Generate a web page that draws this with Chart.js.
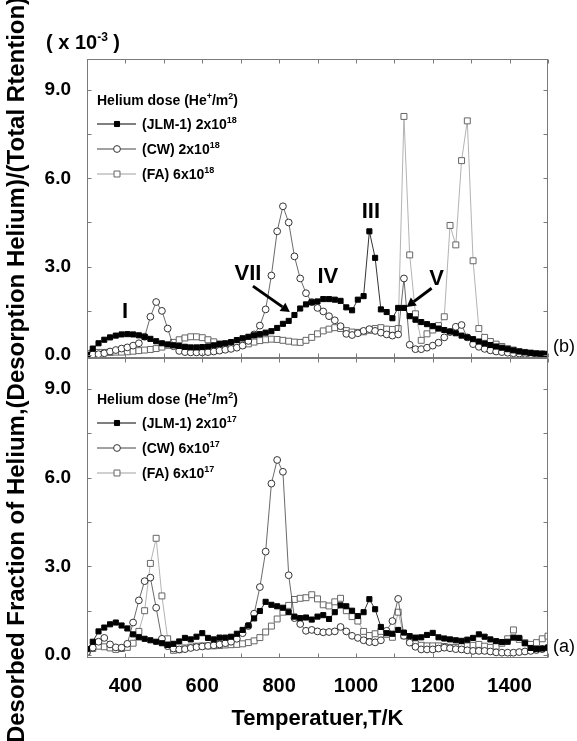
<!DOCTYPE html>
<html>
<head>
<meta charset="utf-8">
<script src="https://cdn.jsdelivr.net/npm/chart.js@4.4.0/dist/chart.umd.min.js"></script>
<style>
html, body { margin: 0; padding: 0; background: #fff; }
#wrap { position: relative; width: 577px; height: 741px; overflow: hidden; }
#wrap canvas { position: absolute; left: 0; top: 0; }
</style>
</head>
<body>
<div id="wrap">
  <canvas id="panelB" width="577" height="741"></canvas>
  <canvas id="panelA" width="577" height="741"></canvas>
</div>
<script>
// temperature grid (K), shared by every series
const temps = [300, 315, 330, 345, 360, 375, 390, 405, 420, 435,
  450, 465, 480, 495, 510, 525, 540, 555, 570, 585,
  600, 615, 630, 645, 660, 675, 690, 705, 720, 735,
  750, 765, 780, 795, 810, 825, 840, 855, 870, 885,
  900, 915, 930, 945, 960, 975, 990, 1005, 1020, 1035,
  1050, 1065, 1080, 1095, 1110, 1125, 1140, 1155, 1170, 1185,
  1200, 1215, 1230, 1245, 1260, 1275, 1290, 1305, 1320, 1335,
  1350, 1365, 1380, 1395, 1410, 1425, 1440, 1455, 1470, 1485,
  1500];

// panel (b): high dose
const jlmB = [0.00, 0.22, 0.40, 0.52, 0.60, 0.66, 0.70, 0.71, 0.70, 0.67,
  0.62, 0.55, 0.47, 0.40, 0.36, 0.33, 0.31, 0.28, 0.26, 0.26,
  0.27, 0.29, 0.33, 0.37, 0.40, 0.44, 0.51, 0.57, 0.62, 0.67,
  0.71, 0.76, 0.81, 0.92, 1.06, 1.16, 1.36, 1.58, 1.72, 1.79,
  1.82, 1.90, 1.90, 1.88, 1.84, 1.62, 1.52, 1.88, 2.00, 4.20,
  3.30, 1.55, 1.46, 1.25, 1.60, 1.60, 1.32, 1.20, 1.12, 1.05,
  0.98, 0.90, 0.85, 0.80, 0.74, 0.66, 0.60, 0.54, 0.46, 0.39,
  0.34, 0.29, 0.25, 0.20, 0.16, 0.12, 0.09, 0.07, 0.05, 0.04,
  0.03];
const cwB = [0.00, 0.02, 0.03, 0.06, 0.12, 0.17, 0.22, 0.26, 0.32, 0.40,
  0.62, 1.30, 1.80, 1.50, 0.90, 0.30, 0.14, 0.10, 0.09, 0.09,
  0.09, 0.10, 0.12, 0.15, 0.18, 0.21, 0.25, 0.32, 0.48, 0.70,
  1.00, 1.55, 2.70, 4.20, 5.05, 4.50, 3.35, 2.60, 2.10, 1.80,
  1.60, 1.48, 1.32, 1.18, 0.98, 0.72, 0.68, 0.74, 0.82, 0.88,
  0.82, 0.76, 0.70, 0.66, 0.70, 2.60, 0.35, 0.20, 0.20, 0.25,
  0.32, 0.42, 0.60, 0.78, 0.96, 1.02, 0.60, 0.37, 0.28, 0.21,
  0.16, 0.12, 0.10, 0.08, 0.06, 0.05, 0.04, 0.03, 0.03, 0.02,
  0.02];
const faB = [0.05, 0.08, 0.09, 0.09, 0.09, 0.10, 0.10, 0.11, 0.13, 0.15,
  0.17, 0.19, 0.22, 0.27, 0.33, 0.43, 0.52, 0.58, 0.62, 0.62,
  0.59, 0.52, 0.45, 0.38, 0.34, 0.32, 0.32, 0.34, 0.38, 0.44,
  0.49, 0.52, 0.54, 0.53, 0.50, 0.47, 0.44, 0.43, 0.50, 0.60,
  0.72, 0.82, 0.88, 0.93, 0.90, 0.83, 0.78, 0.77, 0.79, 0.84,
  0.90, 0.93, 0.88, 0.87, 0.90, 8.10, 3.40, 1.40, 0.50, 0.72,
  0.85, 1.00, 1.30, 4.40, 3.74, 6.60, 7.95, 3.20, 0.90, 0.60,
  0.46, 0.37, 0.29, 0.22, 0.17, 0.12, 0.09, 0.07, 0.05, 0.04,
  0.03];

// panel (a): low dose
const jlmA = [0.20, 0.45, 0.80, 0.93, 1.04, 1.10, 1.00, 0.90, 0.70, 0.60,
  0.55, 0.50, 0.45, 0.40, 0.34, 0.38, 0.46, 0.58, 0.53, 0.62,
  0.74, 0.58, 0.53, 0.59, 0.59, 0.62, 0.72, 0.85, 1.00, 1.24,
  1.49, 1.80, 1.70, 1.65, 1.60, 1.45, 1.30, 1.25, 1.27, 1.20,
  1.30, 1.35, 1.22, 1.45, 1.68, 1.65, 1.50, 1.32, 1.45, 1.89,
  1.55, 0.95, 0.74, 0.72, 0.85, 0.76, 0.64, 0.59, 0.60, 0.68,
  0.75, 0.60, 0.56, 0.53, 0.50, 0.48, 0.52, 0.58, 0.70, 0.62,
  0.53, 0.47, 0.44, 0.45, 0.59, 0.58, 0.40, 0.24, 0.20, 0.22,
  0.25];
const cwA = [0.10, 0.25, 0.45, 0.58, 0.36, 0.26, 0.25, 0.38, 1.10, 1.85,
  2.50, 2.62, 1.60, 0.55, 0.30, 0.22, 0.19, 0.20, 0.24, 0.27,
  0.29, 0.31, 0.33, 0.36, 0.40, 0.45, 0.55, 0.74, 0.98, 1.40,
  2.30, 3.50, 5.80, 6.60, 6.20, 2.70, 1.25, 1.05, 0.82, 0.85,
  0.80, 0.77, 0.78, 0.80, 0.95, 0.80, 0.65, 0.58, 0.50, 0.44,
  0.43, 0.50, 0.82, 1.15, 1.90, 0.65, 0.42, 0.28, 0.19, 0.19,
  0.19, 0.22, 0.25, 0.23, 0.20, 0.19, 0.16, 0.14, 0.14, 0.14,
  0.12, 0.09, 0.08, 0.08, 0.08, 0.10, 0.12, 0.14, 0.17, 0.20,
  0.25];
const faA = [0.12, 0.22, 0.30, 0.28, 0.24, 0.19, 0.22, 0.26, 0.40, 0.80,
  1.50, 3.10, 3.95, 2.00, 0.55, 0.16, 0.18, 0.24, 0.27, 0.30,
  0.31, 0.31, 0.31, 0.32, 0.34, 0.35, 0.36, 0.38, 0.42, 0.48,
  0.59, 0.78, 0.98, 1.22, 1.45, 1.68, 1.88, 1.92, 1.94, 2.04,
  1.90, 1.70, 1.66, 1.80, 1.92, 1.50, 1.30, 1.15, 0.80, 0.66,
  0.72, 0.80, 0.70, 0.60, 1.45, 0.65, 0.50, 0.38, 0.33, 0.31,
  0.31, 0.31, 0.29, 0.26, 0.26, 0.28, 0.31, 0.33, 0.36, 0.30,
  0.26, 0.30, 0.40, 0.55, 0.85, 0.53, 0.42, 0.36, 0.42, 0.55,
  0.64];

const xTickVals = [400, 600, 800, 1000, 1200, 1400];
const xMinorVals = [300, 400, 500, 600, 700, 800, 900, 1000, 1100, 1200, 1300, 1400, 1500];
const yTickVals = [0, 3, 6, 9];
const yMinorVals = [0, 1.5, 3, 4.5, 6, 7.5, 9];

const legendB = [['(JLM-1) 2x10', '18'], ['(CW) 2x10', '18'], ['(FA) 6x10', '18']];
const legendA = [['(JLM-1) 2x10', '17'], ['(CW) 6x10', '17'], ['(FA) 6x10', '17']];

const FONT = "'Liberation Sans', Arial, Helvetica, sans-serif";

const styles = [
  { line: '#000000', edge: '#000000', fill: '#000000', shape: 'rect', r: 3.6 },
  { line: '#444444', edge: '#333333', fill: '#ffffff', shape: 'circle', r: 3.4 },
  { line: '#a0a0a0', edge: '#666666', fill: '#ffffff', shape: 'rect', r: 4.2 }
];

function makeDatasets(list) {
  return list.map((vals, k) => ({
    data: temps.map((t, i) => ({ x: t, y: vals[i] })),
    borderColor: styles[k].line,
    borderWidth: 0.8,
    pointStyle: styles[k].shape,
    pointRadius: styles[k].r,
    pointBackgroundColor: styles[k].fill,
    pointBorderColor: styles[k].edge,
    pointBorderWidth: 1,
    tension: 0,
    fill: false
  }));
}

function drawRich(ctx, parts, x, y, size) {
  let cx = x;
  parts.forEach(p => {
    const sz = p.sup ? Math.round(size * 0.62) : size;
    ctx.font = 'bold ' + sz + 'px ' + FONT;
    ctx.fillText(p.t, cx, p.sup ? y - size * 0.42 : y);
    cx += ctx.measureText(p.t).width;
  });
}

function drawMarker(ctx, k, x, y) {
  const s = styles[k];
  ctx.fillStyle = s.fill;
  ctx.strokeStyle = s.edge;
  ctx.lineWidth = 1;
  ctx.beginPath();
  if (s.shape === 'circle') {
    ctx.arc(x, y, s.r, 0, Math.PI * 2);
  } else {
    const h = s.r / Math.SQRT2;
    ctx.rect(x - h, y - h, 2 * h, 2 * h);
  }
  ctx.fill();
  ctx.stroke();
}

function drawLegend(ctx, a, labels) {
  ctx.save();
  ctx.fillStyle = '#000';
  ctx.textBaseline = 'alphabetic';
  const x0 = a.left + 10;
  drawRich(ctx, [{ t: 'Helium dose (He' }, { t: '+', sup: true }, { t: '/m' }, { t: '2', sup: true }, { t: ')' }],
    x0, a.top + 46, 14);
  labels.forEach((lab, k) => {
    const yc = a.top + 65 + k * 25;
    ctx.strokeStyle = styles[k].line;
    ctx.lineWidth = 1;
    ctx.beginPath();
    ctx.moveTo(x0, yc);
    ctx.lineTo(x0 + 39, yc);
    ctx.stroke();
    drawMarker(ctx, k, x0 + 20, yc);
    ctx.fillStyle = '#000';
    drawRich(ctx, [{ t: lab[0] }, { t: lab[1], sup: true }], x0 + 45, yc + 5, 14);
  });
  ctx.restore();
}

// frame with inward ticks on all four sides
const framePlugin = {
  id: 'frame',
  afterDraw(chart) {
    const { ctx, chartArea: a, scales: { x, y } } = chart;
    ctx.save();
    ctx.strokeStyle = '#7a7a7a';
    ctx.lineWidth = 1;
    const L = Math.round(a.left) + 0.5, R = Math.round(a.right) - 0.5;
    const T = Math.round(a.top) + 0.5, B = Math.round(a.bottom) - 0.5;
    ctx.strokeRect(L, T, R - L, B - T);
    ctx.beginPath();
    xMinorVals.forEach(v => {
      const px = Math.round(x.getPixelForValue(v)) + 0.5;
      ctx.moveTo(px, T); ctx.lineTo(px, T + 4);
      ctx.moveTo(px, B); ctx.lineTo(px, B - 4);
    });
    yMinorVals.forEach(v => {
      const py = Math.round(y.getPixelForValue(v)) + 0.5;
      ctx.moveTo(L, py); ctx.lineTo(L + 4, py);
      ctx.moveTo(R, py); ctx.lineTo(R - 4, py);
    });
    ctx.stroke();
    ctx.restore();
  }
};

function arrow(ctx, x1, y1, x2, y2) {
  const ang = Math.atan2(y2 - y1, x2 - x1);
  const hl = 9, hw = 5;
  const bx = x2 - hl * Math.cos(ang), by = y2 - hl * Math.sin(ang);
  ctx.lineWidth = 3;
  ctx.beginPath();
  ctx.moveTo(x1, y1);
  ctx.lineTo(bx, by);
  ctx.stroke();
  ctx.beginPath();
  ctx.moveTo(x2, y2);
  ctx.lineTo(bx + hw * Math.sin(ang), by - hw * Math.cos(ang));
  ctx.lineTo(bx - hw * Math.sin(ang), by + hw * Math.cos(ang));
  ctx.closePath();
  ctx.fill();
}

const topNotes = {
  id: 'topNotes',
  afterDraw(chart) {
    const { ctx, chartArea: a, scales: { x, y } } = chart;
    ctx.save();
    ctx.fillStyle = '#000';
    ctx.strokeStyle = '#000';
    ctx.textAlign = 'center';
    ctx.textBaseline = 'middle';
    ctx.font = 'bold 22px ' + FONT;
    const put = (s, T, v) => ctx.fillText(s, x.getPixelForValue(T), y.getPixelForValue(v));
    put('I', 399, 1.46);
    put('VII', 719, 2.75);
    put('IV', 927, 2.64);
    put('III', 1039, 4.85);
    put('V', 1210, 2.58);
    arrow(ctx, x.getPixelForValue(732), y.getPixelForValue(2.34), x.getPixelForValue(828), y.getPixelForValue(1.46));
    arrow(ctx, x.getPixelForValue(1197), y.getPixelForValue(2.27), x.getPixelForValue(1132), y.getPixelForValue(1.63));

    ctx.textAlign = 'left';
    ctx.textBaseline = 'middle';
    ctx.font = '18px ' + FONT;
    ctx.fillText('(b)', a.right + 5, a.bottom - 11);

    ctx.textBaseline = 'alphabetic';
    drawRich(ctx, [{ t: '( x 10' }, { t: '-3', sup: true }, { t: ' )' }], 46, 49, 20);
    ctx.restore();
    drawLegend(ctx, a, legendB);
  }
};

const bottomNotes = {
  id: 'bottomNotes',
  afterDraw(chart) {
    const { ctx, chartArea: a } = chart;
    ctx.save();
    ctx.fillStyle = '#000';
    ctx.textAlign = 'left';
    ctx.textBaseline = 'middle';
    ctx.font = '18px ' + FONT;
    ctx.fillText('(a)', a.right + 5, a.bottom - 11);

    ctx.translate(17, 370);
    ctx.rotate(-Math.PI / 2);
    ctx.textAlign = 'center';
    ctx.font = 'bold 24px ' + FONT;
    ctx.fillText('Desorbed Fraction of Helium,(Desorption Helium)/(Total Rtention)', 0, 0);
    ctx.restore();
    drawLegend(ctx, a, legendA);
  }
};

function panelConfig(list, pad, showX, notes) {
  return {
    type: 'line',
    data: { datasets: makeDatasets(list) },
    options: {
      responsive: false,
      animation: false,
      devicePixelRatio: 1,
      events: [],
      layout: { padding: pad },
      plugins: { legend: { display: false }, tooltip: { enabled: false } },
      scales: {
        x: {
          type: 'linear', min: 300, max: 1500,
          display: showX,
          afterBuildTicks: s => { s.ticks = xTickVals.map(v => ({ value: v })); },
          afterFit: s => { s.height = showX ? 83 : 0; },
          grid: { display: false },
          border: { display: false },
          ticks: {
            display: showX, color: '#000', padding: 8, maxRotation: 0, autoSkip: false,
            font: { family: FONT, size: 20, weight: 'bold' },
            callback: v => String(v)
          },
          title: {
            display: showX, text: 'Temperatuer,T/K', color: '#000',
            font: { family: FONT, size: 22, weight: 'bold' },
            padding: { top: 4, bottom: 9 }
          }
        },
        y: {
          type: 'linear', min: -0.1, max: 10.05,
          afterBuildTicks: s => { s.ticks = yTickVals.map(v => ({ value: v })); },
          afterFit: s => { s.width = 87; },
          grid: { display: false },
          border: { display: false },
          ticks: {
            color: '#000', padding: 8,
            font: { family: FONT, size: 19, weight: 'bold' },
            callback: v => Number(v).toFixed(1)
          }
        }
      }
    },
    plugins: [framePlugin, notes]
  };
}

new Chart(document.getElementById('panelB'),
  panelConfig([jlmB, cwB, faB], { left: 0, right: 29, top: 59, bottom: 383 }, false, topNotes));
new Chart(document.getElementById('panelA'),
  panelConfig([jlmA, cwA, faA], { left: 0, right: 29, top: 358, bottom: 0 }, true, bottomNotes));
</script>
</body>
</html>
